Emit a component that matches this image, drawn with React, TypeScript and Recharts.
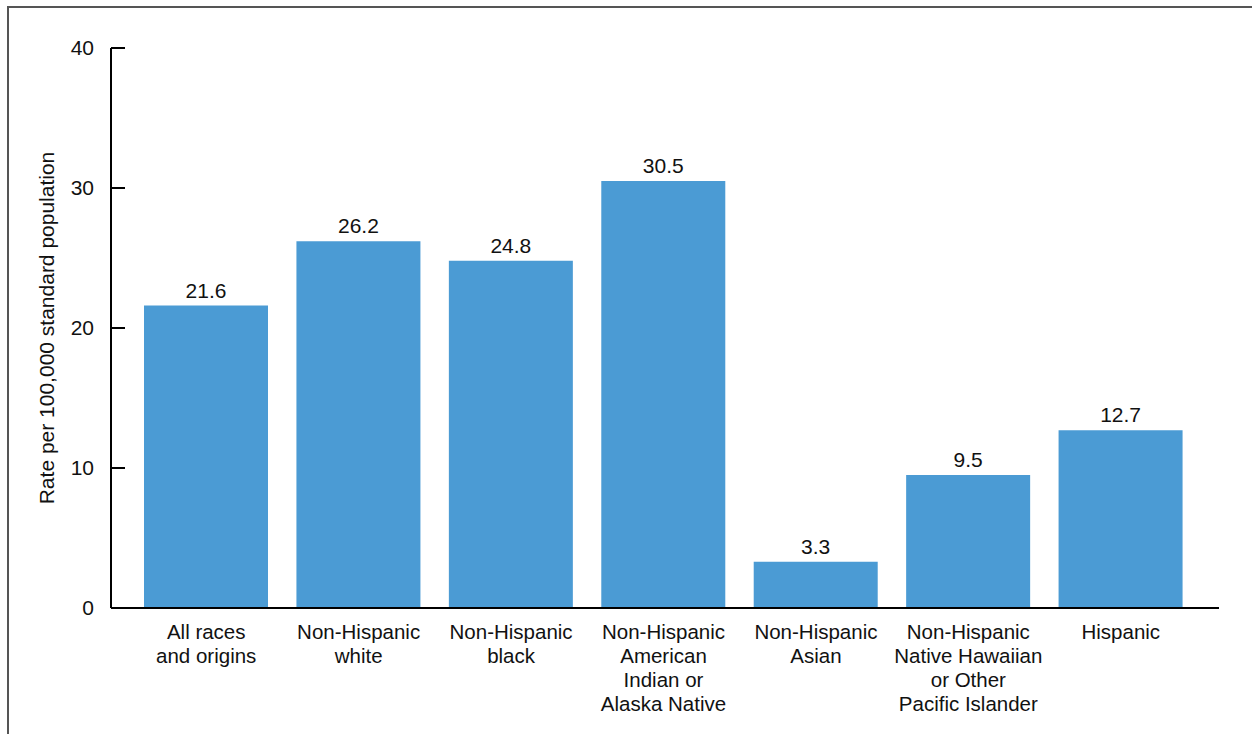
import React from "react";
import { BarChart, Bar, XAxis, YAxis, LabelList, Label } from "recharts";

const categories = [
  "All races\nand origins",
  "Non-Hispanic\nwhite",
  "Non-Hispanic\nblack",
  "Non-Hispanic\nAmerican\nIndian or\nAlaska Native",
  "Non-Hispanic\nAsian",
  "Non-Hispanic\nNative Hawaiian\nor Other\nPacific Islander",
  "Hispanic",
];
const rates = [21.6, 26.2, 24.8, 30.5, 3.3, 9.5, 12.7];
const yTicks = [0, 10, 20, 30, 40];

const data = categories.map((name, i) => ({ name, rate: rates[i] }));

const FONT = "'Liberation Sans', Arial, Helvetica, sans-serif";
const BLUE = "#4b9bd4";

function YTick({ x, y, payload }: any) {
  return (
    <g>
      <line x1={x} x2={x + 14} y1={y} y2={y} stroke="#000" strokeWidth={2} />
      <text x={x - 17} y={y} dy={7} textAnchor="end" fontSize={21} fill="#111" fontFamily={FONT}>
        {payload.value}
      </text>
    </g>
  );
}

function XTick({ x, y, payload }: any) {
  const lines = String(payload.value).split("\n");
  return (
    <text x={x} y={y} textAnchor="middle" fontSize={20.5} fill="#111" fontFamily={FONT}>
      {lines.map((l, i) => (
        <tspan key={i} x={x} y={y + 31 + i * 24}>
          {l}
        </tspan>
      ))}
    </text>
  );
}

function AxisTitle({ viewBox }: any) {
  const cx = viewBox.x + 3;
  const cy = viewBox.y + viewBox.height / 2;
  return (
    <text
      x={cx}
      y={cy}
      transform={`rotate(-90 ${cx} ${cy})`}
      textAnchor="middle"
      fontSize={21}
      fill="#111"
      fontFamily={FONT}
    >
      Rate per 100,000 standard population
    </text>
  );
}

export default function App() {
  return (
    <div style={{ position: "fixed", left: 0, top: 0, width: 1252, height: 734, background: "#fff" }}>
      <div
        style={{
          position: "absolute",
          left: 7,
          top: 6,
          right: 0,
          bottom: 0,
          borderTop: "2px solid #555",
          borderLeft: "2px solid #555",
        }}
      />
      <div style={{ position: "absolute", left: 0, top: 0 }}>
        <BarChart
          width={1252}
          height={734}
          data={data}
          margin={{ top: 48, right: 33, bottom: 96, left: 51 }}
        >
          <YAxis
            domain={[0, 40]}
            ticks={yTicks}
            width={60}
            axisLine={{ stroke: "#000", strokeWidth: 2 }}
            tickLine={false}
            tickSize={0}
            tickMargin={0}
            tick={<YTick />}
            interval={0}
          >
            <Label content={<AxisTitle />} />
          </YAxis>
          <XAxis
            dataKey="name"
            height={30}
            axisLine={{ stroke: "#000", strokeWidth: 2 }}
            tickLine={false}
            tickSize={0}
            tickMargin={0}
            tick={<XTick />}
            interval={0}
            padding={{ left: 19, right: 22 }}
          />
          <Bar dataKey="rate" fill={BLUE} barSize={124} isAnimationActive={false}>
            <LabelList
              dataKey="rate"
              position="top"
              offset={8}
              fontSize={21}
              fill="#111"
              fontFamily={FONT}
              formatter={(v: any) => Number(v).toFixed(1)}
            />
          </Bar>
        </BarChart>
      </div>
    </div>
  );
}
